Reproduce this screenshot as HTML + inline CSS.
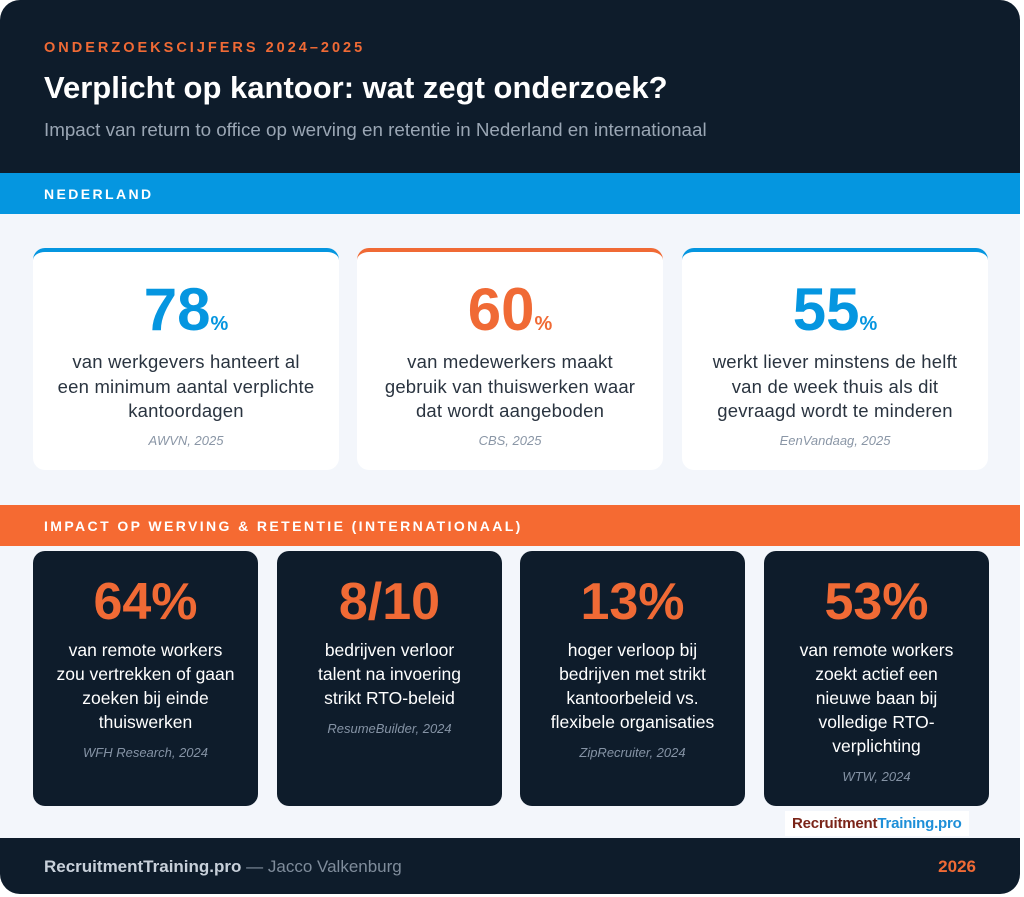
<!DOCTYPE html>
<html><head><meta charset="utf-8"><style>
*{margin:0;padding:0;box-sizing:border-box}
body{width:1024px;height:897px;background:#fff;font-family:"Liberation Sans",sans-serif;position:relative;overflow:hidden}
.frame{position:absolute;left:0;top:0;width:1020px;height:894px;background:#f3f6fb;border-radius:20px;overflow:hidden}
.hdr{position:absolute;left:0;top:0;width:1020px;height:173px;background:#0e1c2b}
.kicker{position:absolute;left:44px;top:40px;color:#f06a35;font-size:14.5px;font-weight:bold;letter-spacing:3px}
.title{position:absolute;left:44px;top:70px;color:#fff;font-size:31px;font-weight:bold}
.sub{position:absolute;left:44px;top:119px;color:#9aa6b4;font-size:18.8px}
.band{position:absolute;left:0;width:1020px;height:41px;color:#fff;font-size:14px;font-weight:bold;letter-spacing:2.4px;padding:13px 0 0 44px}
.card{position:absolute;top:248px;height:222px;width:306px;background:#fff;border-radius:12px;border-top:4px solid;text-align:center}
.big{font-size:60px;font-weight:bold;margin-top:28px;line-height:60px}
.big span{font-size:20px}
.txt{font-size:18.5px;line-height:24.5px;color:#2a3440;margin-top:-4px;letter-spacing:0.2px}
.src{font-size:13px;font-style:italic;color:#8a96a6;margin-top:9px}
.dc{position:absolute;top:551px;height:255px;width:225px;background:#0e1c2b;border-radius:12px;text-align:center}
.dbig{color:#f06a35;font-size:52px;font-weight:bold;margin-top:24px;line-height:54px}
.dtxt{color:#fff;font-size:17.5px;line-height:24px;margin-top:9px}
.dsrc{color:#8593a5;font-size:13px;font-style:italic;margin-top:11px}
.foot{position:absolute;left:0;top:838px;width:1020px;height:56px;background:#0e1c2b;font-size:17px}
</style></head><body>
<div class="frame">
<div class="hdr">
<div class="kicker">ONDERZOEKSCIJFERS 2024–2025</div>
<div class="title">Verplicht op kantoor: wat zegt onderzoek?</div>
<div class="sub">Impact van return to office op werving en retentie in Nederland en internationaal</div>
</div>
<div class="band" style="top:173px;background:#0596e0">NEDERLAND</div>
<div class="card" style="left:33px;border-color:#0596e0"><div class="big" style="color:#0596e0">78<span>%</span></div><div class="txt">van werkgevers hanteert al<br>een minimum aantal verplichte<br>kantoordagen</div><div class="src">AWVN, 2025</div></div>
<div class="card" style="left:357px;border-color:#f06a35"><div class="big" style="color:#f06a35">60<span>%</span></div><div class="txt">van medewerkers maakt<br>gebruik van thuiswerken waar<br>dat wordt aangeboden</div><div class="src">CBS, 2025</div></div>
<div class="card" style="left:682px;border-color:#0596e0"><div class="big" style="color:#0596e0">55<span>%</span></div><div class="txt">werkt liever minstens de helft<br>van de week thuis als dit<br>gevraagd wordt te minderen</div><div class="src">EenVandaag, 2025</div></div>
<div class="band" style="top:505px;background:#f56a32">IMPACT OP WERVING &amp; RETENTIE (INTERNATIONAAL)</div>
<div class="dc" style="left:33px"><div class="dbig">64%</div><div class="dtxt">van remote workers<br>zou vertrekken of gaan<br>zoeken bij einde<br>thuiswerken</div><div class="dsrc">WFH Research, 2024</div></div>
<div class="dc" style="left:277px"><div class="dbig">8/10</div><div class="dtxt">bedrijven verloor<br>talent na invoering<br>strikt RTO-beleid</div><div class="dsrc">ResumeBuilder, 2024</div></div>
<div class="dc" style="left:520px"><div class="dbig">13%</div><div class="dtxt">hoger verloop bij<br>bedrijven met strikt<br>kantoorbeleid vs.<br>flexibele organisaties</div><div class="dsrc">ZipRecruiter, 2024</div></div>
<div class="dc" style="left:764px"><div class="dbig">53%</div><div class="dtxt">van remote workers<br>zoekt actief een<br>nieuwe baan bij<br>volledige RTO-<br>verplichting</div><div class="dsrc">WTW, 2024</div></div>
<div style="position:absolute;left:785px;top:811px;width:184px;height:25px;background:#fff;font-size:15px;font-weight:bold;padding:4px 0 0 7px;letter-spacing:-0.2px"><span style="color:#7a2418">Recruitment</span><span style="color:#1e8fd8">Training.pro</span></div>
<div class="foot">
<div style="position:absolute;left:44px;top:19px;color:#c8d0da"><b>RecruitmentTraining.pro</b> <span style="color:#7f8c9b">— Jacco Valkenburg</span></div>
<div style="position:absolute;right:44px;top:19px;color:#f06a35;font-weight:bold">2026</div>
</div>
</div>
</body></html>
